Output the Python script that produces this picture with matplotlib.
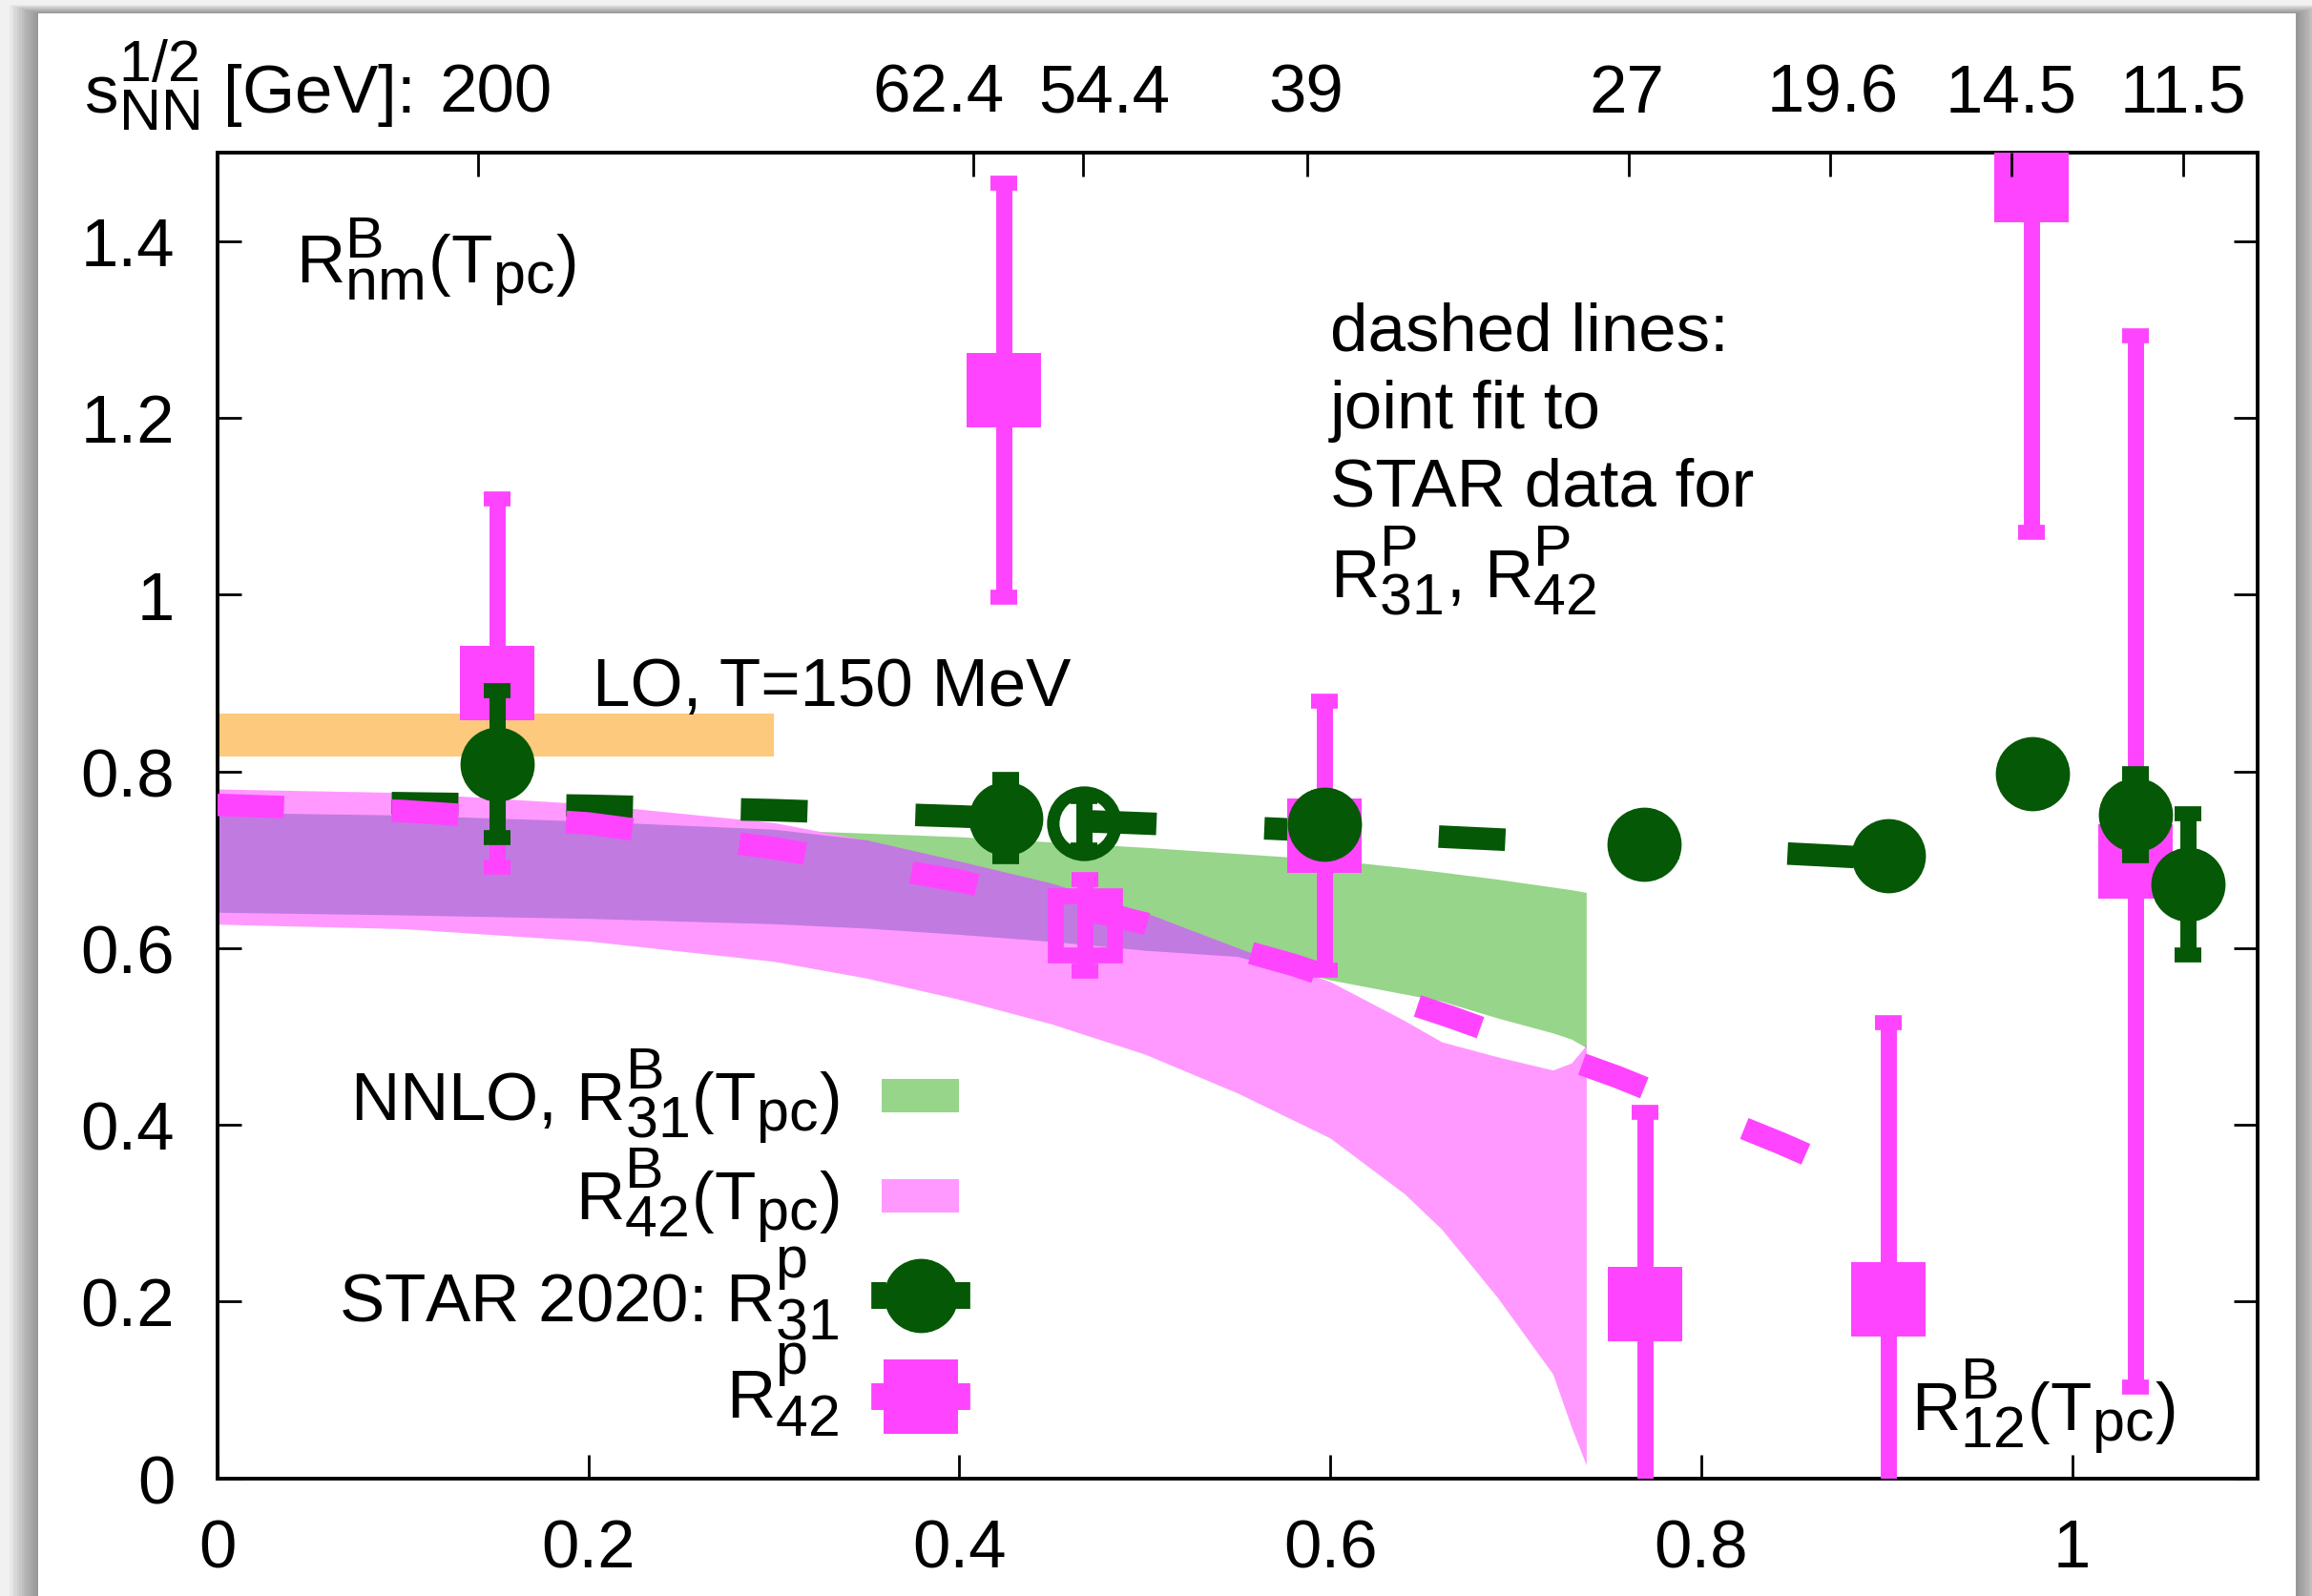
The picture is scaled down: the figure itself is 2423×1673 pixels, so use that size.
import numpy as np
import matplotlib
matplotlib.use("Agg")
import matplotlib.pyplot as plt
import matplotlib.transforms as mtransforms
import matplotlib._mathtext as mathtext_internals
from matplotlib.patches import Rectangle

# gnuplot draws sub/superscripts bigger than matplotlib's default 0.7
mathtext_internals.SHRINK_FACTOR = 0.86

plt.rcParams['font.family'] = ['Liberation Sans', 'DejaVu Sans']
plt.rcParams['mathtext.fontset'] = 'custom'
plt.rcParams['mathtext.rm'] = 'Liberation Sans'
plt.rcParams['mathtext.it'] = 'Liberation Sans'
plt.rcParams['mathtext.bf'] = 'Liberation Sans:bold'

# --- data ---
# NNLO bands (R31 green, R42 pink) on a shared x grid
band_x = [0, 0.1, 0.2, 0.3, 0.35, 0.4, 0.45, 0.5, 0.55, 0.6, 0.64, 0.66, 0.69, 0.72, 0.73, 0.738]
r31_hi = [0.753, 0.750, 0.743, 0.734, 0.730, 0.726, 0.720, 0.714, 0.707, 0.700, 0.691, 0.686, 0.678, 0.669, 0.666, 0.663]
r31_lo = [0.640, 0.637, 0.633, 0.627, 0.622, 0.615, 0.607, 0.597, 0.590, 0.564, 0.548, 0.540, 0.521, 0.504, 0.497, 0.4875]
r42_hi = [0.780, 0.776, 0.763, 0.742, 0.722, 0.698, 0.673, 0.640, 0.600, 0.562, 0.518, 0.494, 0.477, 0.462, 0.470, 0.490]
r42_lo = [0.627, 0.622, 0.608, 0.585, 0.566, 0.542, 0.514, 0.480, 0.436, 0.385, 0.322, 0.282, 0.205, 0.118, 0.058, 0.015]

# LO band
lo_x = [0, 0.3]
lo_bottom = 0.817
lo_top = 0.865

# joint fits (dashed)
fit31_x = [0.094, 0.2, 0.3, 0.4, 0.5, 0.57, 0.68, 0.77, 0.865, 0.90]
fit31_y = [0.764, 0.761, 0.756, 0.749, 0.741, 0.735, 0.724, 0.715, 0.705, 0.701]
fit42_x = [0, 0.1, 0.2, 0.3, 0.4, 0.5, 0.58, 0.665, 0.755, 0.843, 0.88]
fit42_y = [0.762, 0.755, 0.741, 0.713, 0.676, 0.628, 0.581, 0.522, 0.454, 0.379, 0.345]

# STAR 2020 R31 (filled) and the open point
star31_x = [0.151, 0.4252, 0.597, 0.769, 0.901, 0.9786, 1.034, 1.0625]
star31_y = [0.8085, 0.747, 0.740, 0.717, 0.705, 0.797, 0.751, 0.672]
star31_err = [0.083, 0.044, 0.03, 0.03, 0.03, 0.03, 0.046, 0.08]
open31_x = [0.467]
open31_y = [0.741]
open31_err = [0.03]

# STAR 2020 R42 (filled) and the open point
star42_x = [0.151, 0.424, 0.597, 0.7697, 0.901, 0.978, 1.034]
star42_y = [0.900, 1.2315, 0.727, 0.197, 0.202, 1.463, 0.698]
star42_err = [0.208, 0.234, 0.152, 0.217, 0.314, 0.393, 0.595]
open42_x = [0.4676]
open42_y = [0.626]
open42_err = [0.052]

# collision energies on the top axis
top_tick_x = [0.1407, 0.4076, 0.4666, 0.5875, 0.7608, 0.8696, 0.967, 1.0597]
top_label_x = [0.150, 0.389, 0.478, 0.587, 0.760, 0.871, 0.967, 1.0597]
top_labels = ['200', '62.4', '54.4', '39', '27', '19.6', '14.5', '11.5']

x_ticks = [0, 0.2, 0.4, 0.6, 0.8, 1.0]
x_ticklabels = ['0', '0.2', '0.4', '0.6', '0.8', '1']
y_ticks = [0, 0.2, 0.4, 0.6, 0.8, 1.0, 1.2, 1.4]
y_ticklabels = ['0', '0.2', '0.4', '0.6', '0.8', '1', '1.2', '1.4']

# colours
GREEN = '#055805'
MAGENTA = '#ff44ff'
GREEN_BAND = '#96d58a'
PINK_BAND = '#ff99ff'
PURPLE = '#c17ae0'
ORANGE = '#fdc97c'

FS = 51

W, H = 2423, 1674
fig = plt.figure(figsize=(W / 100, H / 100), dpi=100, facecolor='#f1f1f1')

# drop shadow + white card
for i in range(12):
    p = (12 - i) * 2.5
    fig.patches.append(Rectangle(((40 - p) / W, -0.05), (2366 + 2 * p) / W, 1 - 15 / H + 0.05 + p / H * 0.3,
                                 transform=fig.transFigure, color='black', alpha=0.035, lw=0, zorder=-3))
fig.patches.append(Rectangle((40 / W, -0.05), 2366 / W, 1 - 15 / H + 0.05,
                             transform=fig.transFigure, color='white', lw=0, zorder=-2))

ax = fig.add_axes([0.0940, 0.0737, 0.8825, 0.8301])
ax.set_facecolor('none')
ax.set_xlim(0, 1.1)
ax.set_ylim(0, 1.5)

# bands
bx = np.array(band_x)
ax.fill_between(bx, r31_lo, r31_hi, color=GREEN_BAND, lw=0, zorder=1)
ax.fill_between(bx, r42_lo, r42_hi, color=PINK_BAND, lw=0, zorder=1)
ov_lo = np.maximum(r31_lo, r42_lo)
ov_hi = np.minimum(r31_hi, r42_hi)
ax.fill_between(bx, ov_lo, ov_hi, where=ov_hi > ov_lo, interpolate=True, color=PURPLE, lw=0, zorder=1.5)
ax.fill_between(lo_x, lo_bottom, lo_top, color=ORANGE, lw=0, zorder=1)

# dashed fits
dash = (0, (2.96, 4.79))
ax.plot(fit31_x, fit31_y, color=GREEN, lw=17, ls=dash, dash_capstyle='butt', zorder=2)
ax.plot(fit42_x, fit42_y, color=MAGENTA, lw=17, ls=dash, dash_capstyle='butt', zorder=3)

# error bars first, markers on top (kept apart so the caps keep their thickness)
eb = dict(fmt='none', elinewidth=12.2, capsize=10, capthick=11.3)
ax.errorbar(star42_x, star42_y, yerr=star42_err, ecolor=MAGENTA, zorder=4, **eb)
ax.errorbar(open42_x, open42_y, yerr=open42_err, ecolor=MAGENTA, zorder=4, **eb)
ax.plot(star42_x, star42_y, 's', ms=56, mew=0, color=MAGENTA, zorder=4)
ax.plot(open42_x, open42_y, 's', ms=45, mew=12, mfc='none', mec=MAGENTA, zorder=4)

ax.errorbar(star31_x, star31_y, yerr=star31_err, ecolor=GREEN, zorder=5, **eb)
ax.errorbar(open31_x, open31_y, yerr=open31_err, ecolor=GREEN, zorder=5, **eb)
ax.plot(star31_x, star31_y, 'o', ms=56, mew=0, color=GREEN, zorder=5)
ax.plot(open31_x, open31_y, 'o', ms=47, mew=9.4, mfc='none', mec=GREEN, zorder=5)

# key (drawn by hand like the gnuplot one)
key_x = 0.3355
ax.text(key_x, 0.4054, r'NNLO, $\mathrm{R^{B}_{31}(T_{pc})}$', fontsize=FS, ha='right', va='baseline')
ax.text(key_x, 0.2932, r'$\mathrm{R^{B}_{42}(T_{pc})}$', fontsize=FS, ha='right', va='baseline')
ax.text(key_x, 0.1777, r'STAR 2020: $\mathrm{R^{p}_{31}}$', fontsize=FS, ha='right', va='baseline')
ax.text(key_x, 0.0677, r'$\mathrm{R^{p}_{42}}$', fontsize=FS, ha='right', va='baseline')
ax.fill_between([0.3581, 0.4000], 0.4136, 0.4523, color=GREEN_BAND, lw=0, zorder=1)
ax.fill_between([0.3581, 0.4000], 0.3007, 0.3385, color=PINK_BAND, lw=0, zorder=1)
ax.errorbar([0.3792], [0.2069], xerr=[0.0226], ecolor=GREEN, zorder=5, **eb)
ax.plot([0.3792], [0.2069], 'o', ms=56, mew=0, color=GREEN, zorder=5)
ax.errorbar([0.3792], [0.0925], xerr=[0.0226], ecolor=MAGENTA, zorder=5, **eb)
ax.plot([0.3792], [0.0925], 's', ms=56, mew=0, color=MAGENTA, zorder=5)

# annotations
ax.text(0.0423, 1.353, r'$\mathrm{R^{B}_{nm}(T_{pc})}$', fontsize=FS, va='baseline')
ax.text(0.2023, 0.875, 'LO, T=150 MeV', fontsize=FS, va='baseline')
ax.text(0.600, 1.277, 'dashed lines:', fontsize=FS, va='baseline')
ax.text(0.600, 1.189, 'joint fit to', fontsize=FS, va='baseline')
ax.text(0.600, 1.101, 'STAR data for', fontsize=FS, va='baseline')
ax.text(0.600, 0.997, r'$\mathrm{R^{P}_{31}}$, $\mathrm{R^{P}_{42}}$', fontsize=FS, va='baseline')
ax.text(0.913, 0.0547, r'$\mathrm{R^{B}_{12}(T_{pc})}$', fontsize=FS, va='baseline', zorder=3)

# axes styling
for s in ax.spines.values():
    s.set_linewidth(2.8)
ax.set_xticks(x_ticks)
ax.set_xticklabels(x_ticklabels)
ax.set_yticks(y_ticks)
ax.set_yticklabels(y_ticklabels)
ax.tick_params(axis='both', direction='in', length=18, width=2, labelsize=FS)
ax.tick_params(axis='y', right=True, pad=32)
ax.tick_params(axis='x', top=False, pad=30)

ax2 = ax.twiny()
ax2.set_xlim(ax.get_xlim())
ax2.set_xticks(top_tick_x)
ax2.set_xticklabels([])
ax2.tick_params(direction='in', length=18, width=2)
for s in ax2.spines.values():
    s.set_visible(False)

trans = mtransforms.blended_transform_factory(ax.transData, ax.transAxes)
for xl, lab in zip(top_label_x, top_labels):
    ax.text(xl, 1.031, lab, transform=trans, fontsize=FS, ha='center', va='baseline', clip_on=False)
ax.text(0.0946, 1.031, r'$\mathrm{s^{1/2}_{NN}}$ [GeV]:', transform=ax.transAxes, fontsize=FS,
        ha='right', va='baseline')

fig.savefig('out.png', dpi=100, facecolor=fig.get_facecolor())
